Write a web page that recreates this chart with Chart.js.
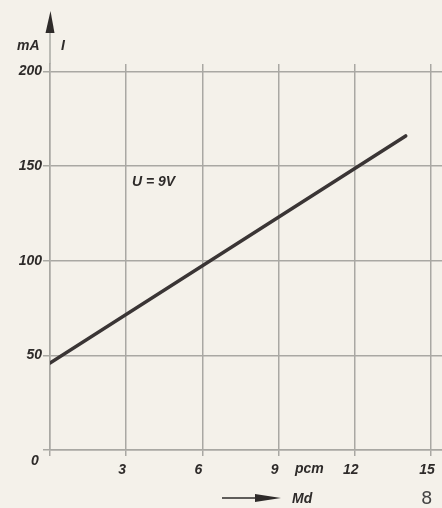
<!DOCTYPE html>
<html>
<head>
<meta charset="utf-8">
<script src="https://cdn.jsdelivr.net/npm/chart.js@4/dist/chart.umd.min.js"></script>
<style>
  body { margin: 0; background: #f4f1ea; }
  canvas { display: block; }
</style>
</head>
<body>
<canvas id="grafico" width="442" height="508"></canvas>
<script>
// valores
const momento = [0, 14];        // Md en pcm
const corriente = [46, 166];    // I en mA
const ticksX = [0, 3, 6, 9, 12, 15];
const ticksY = [0, 50, 100, 150, 200];

const tinta = '#2e2b2a';
const rejilla = '#a9a8a3';
const fuente = "bold italic 14px 'Liberation Sans'";

// textos y flechas que no son parte de los ejes
const anotaciones = {
    id: 'anotaciones',
    afterDraw(chart) {
        const ctx = chart.ctx;
        const x0 = chart.scales.x.getPixelForValue(0);
        const top = chart.chartArea.top;
        ctx.save();
        // eje vertical prolongado con flecha
        ctx.strokeStyle = rejilla;
        ctx.lineWidth = 1.5;
        ctx.beginPath();
        ctx.moveTo(x0, top);
        ctx.lineTo(x0, 30);
        ctx.stroke();
        ctx.fillStyle = tinta;
        ctx.beginPath();
        ctx.moveTo(x0 - 4.5, 33);
        ctx.lineTo(x0 + 4.5, 33);
        ctx.lineTo(x0 + 0.5, 11);
        ctx.closePath();
        ctx.fill();

        ctx.font = fuente;
        ctx.textBaseline = 'middle';
        ctx.textAlign = 'left';
        ctx.fillText('mA', 17, 46);
        ctx.fillText('I', 61, 46);
        ctx.fillText('U = 9V', 132, 182);
        ctx.fillText('pcm', 295, 469);
        ctx.fillText('0', 31, 461);
        ctx.fillText('Md', 292, 499);

        // flecha de Md
        ctx.strokeStyle = tinta;
        ctx.lineWidth = 1.5;
        ctx.beginPath();
        ctx.moveTo(222, 498);
        ctx.lineTo(258, 498);
        ctx.stroke();
        ctx.beginPath();
        ctx.moveTo(255, 494);
        ctx.lineTo(281, 498);
        ctx.lineTo(255, 502);
        ctx.closePath();
        ctx.fill();

        ctx.font = "18px 'DejaVu Sans'";
        ctx.fillStyle = '#444';
        ctx.fillText('8', 421, 499);
        ctx.restore();
    }
};

new Chart(document.getElementById('grafico'), {
    type: 'line',
    data: {
        datasets: [{
            data: momento.map((m, i) => ({ x: m, y: corriente[i] })),
            borderColor: '#3a3535',
            borderWidth: 3.5,
            pointRadius: 0,
            borderCapStyle: 'round',
            tension: 0
        }]
    },
    options: {
        responsive: false,
        animation: false,
        layout: { padding: { top: 64, right: 0, left: 0, bottom: 0 } },
        plugins: { legend: { display: false }, tooltip: { enabled: false } },
        scales: {
            x: {
                type: 'linear',
                min: 0,
                max: 15.43,
                afterFit: s => { s.height = 58; s.paddingRight = 0; s.paddingLeft = 0; },
                afterBuildTicks: s => { s.ticks = ticksX.map(v => ({ value: v })); },
                ticks: {
                    color: tinta,
                    font: { family: 'Liberation Sans', size: 14, style: 'italic', weight: 'bold' },
                    padding: 6,
                    labelOffset: -4,
                    maxRotation: 0,
                    callback: v => v === 0 ? '' : v
                },
                grid: { color: rejilla, lineWidth: 1.5, tickLength: 6 },
                border: { color: rejilla, width: 1.5 }
            },
            y: {
                min: 0,
                max: 204,
                afterFit: s => { s.width = 50; },
                afterBuildTicks: s => { s.ticks = ticksY.map(v => ({ value: v })); },
                ticks: {
                    color: tinta,
                    font: { family: 'Liberation Sans', size: 14, style: 'italic', weight: 'bold' },
                    padding: 1,
                    callback: v => v === 0 ? '' : v
                },
                grid: { color: rejilla, lineWidth: 1.5, tickLength: 7 },
                border: { color: rejilla, width: 1.5 }
            }
        }
    },
    plugins: [anotaciones]
});
</script>
</body>
</html>
